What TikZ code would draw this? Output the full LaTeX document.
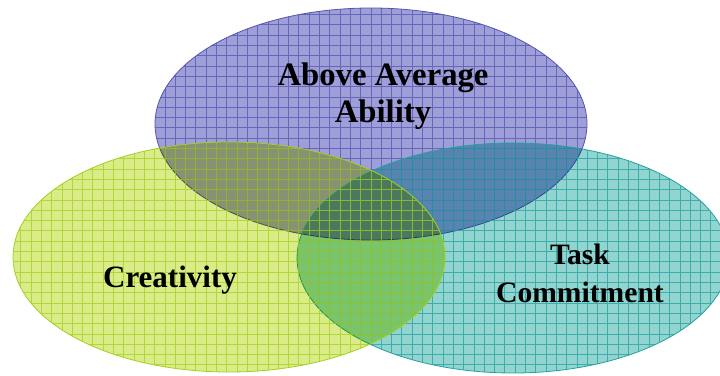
\documentclass[tikz,border=0pt]{standalone}
\usepackage{fontspec}
\setmainfont{Liberation Serif}
\usetikzlibrary{calc}
\definecolor{abilityfill}{RGB}{158,158,216}
\definecolor{abilityline}{RGB}{85,85,175}
\definecolor{creativefill}{RGB}{218,236,135}
\definecolor{creativeline}{RGB}{165,208,35}
\definecolor{taskfill}{RGB}{145,212,208}
\definecolor{taskline}{RGB}{35,162,162}
\def\gridellipse[#1](#2)(#3:#4)% Syntax: [colour prefix] (center) (x radius:y radius)
{ \fill[#1fill,blend mode=multiply] (#2) ellipse (#3pt and #4pt);
  \begin{scope}
	\clip (#2) ellipse (#3pt and #4pt);
	\draw[#1line,line width=0.6pt,draw opacity=0.75,step=10.3pt] ($(#2)-(#3,#4)$) grid ($(#2)+(#3,#4)$);
  \end{scope}
  \draw[#1line,line width=0.8pt] (#2) ellipse (#3pt and #4pt); }

\begin{document}
\begin{tikzpicture}[x=1pt,y=1pt,
	ringlabel/.style={font=\bfseries,align=center,inner sep=0pt}]
	%FRAME
	\useasboundingbox (0,0) rectangle (720,375);
	\fill[white] (0,0) rectangle (720,375);
	
	%ELLIPSES
	\gridellipse[ability](371,251)(216:116)		%top
	\gridellipse[task](513,117)(216:115)		%right
	\gridellipse[creative](229,118)(216:115)	%left
	
	%LABELS
	\node[ringlabel,font=\bfseries\fontsize{32.7}{37}\selectfont] (ability) at (383,279) {Above Average\\Ability};
	\node[ringlabel,font=\bfseries\fontsize{31}{38}\selectfont,anchor=base] (creativity) at (170,88) {Creativity};
	\node[ringlabel,font=\bfseries\fontsize{29.6}{38}\selectfont] (task) at (580,101.5) {Task\\Commitment};
\end{tikzpicture}
\end{document}
